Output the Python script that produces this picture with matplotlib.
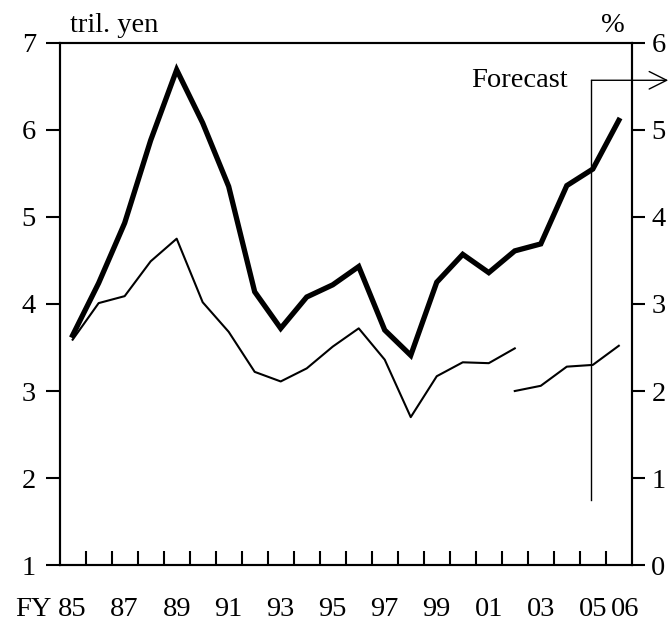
import matplotlib.pyplot as plt
import numpy as np
from matplotlib.transforms import ScaledTranslation

plt.rcParams['font.family'] = ['Liberation Serif', 'DejaVu Serif']
plt.rcParams['font.size'] = 20.5

# fiscal years shown on the x axis
years = ["85", "86", "87", "88", "89", "90", "91", "92", "93", "94", "95",
         "96", "97", "98", "99", "00", "01", "02", "03", "04", "05", "06"]

# thick line, left axis (tril. yen)
amount = [3.64, 4.24, 4.93, 5.88, 6.69, 6.08, 5.35, 4.14, 3.72, 4.08, 4.22,
          4.43, 3.70, 3.41, 4.25, 4.57, 4.36, 4.61, 4.69, 5.36, 5.55, 6.11]

# thin line, right axis (%), old basis FY85-02 and new basis FY02-06
pct_old_years = years[:18]
pct_old = [2.59, 3.01, 3.09, 3.49, 3.75, 3.02, 2.68, 2.22, 2.11, 2.26, 2.51,
           2.72, 2.36, 1.70, 2.17, 2.33, 2.32, 2.49]
pct_new_years = years[17:]
pct_new = [2.00, 2.06, 2.28, 2.30, 2.52]

tick_years = ["85", "87", "89", "91", "93", "95", "97", "99", "01", "03", "05", "06"]
forecast_year = "05"

idx = {y: i for i, y in enumerate(years)}

fig = plt.figure(figsize=(6.7, 6.21), dpi=100)
ax = fig.add_axes([0.089, 0.090, 0.854, 0.841])
ax2 = ax.twinx()

ax.plot([idx[y] for y in years], amount, color='black', lw=3.8,
        solid_joinstyle='miter')
ax2.plot([idx[y] for y in pct_old_years], pct_old, color='black', lw=1.5)
ax2.plot([idx[y] for y in pct_new_years], pct_new, color='black', lw=1.5)

ax.set_xlim(-0.5, len(years) - 0.5)
ax.set_ylim(1, 7)
ax2.set_ylim(0, 6)
ax.set_yticks(range(1, 8))
ax2.set_yticks(range(0, 7))

# year labels, boundary ticks pointing inward
ax.set_xticks([idx[y] for y in tick_years])
ax.set_xticklabels(tick_years)
ax.set_xticks(np.arange(0.5, len(years) - 1, 1.0), minor=True)
ax.tick_params(axis='x', which='major', length=0, pad=23)
ax.tick_params(axis='x', which='minor', direction='in', length=10, width=1.5)
ax.tick_params(axis='y', direction='out', length=10, width=1.5, pad=7)
ax2.tick_params(axis='y', direction='out', length=9, width=1.5, pad=5)
lbls = ax.get_xticklabels()
lbls[-1].set_transform(lbls[-1].get_transform() +
                       ScaledTranslation(6 / 100, 0, fig.dpi_scale_trans))

for a in (ax, ax2):
    for s in a.spines.values():
        s.set_linewidth(1.5)

# "FY" prefix set in line with the year labels
ax.text(-0.8, 0, "FY", transform=ax.get_xaxis_transform() +
        ScaledTranslation(0, -23 / 72, fig.dpi_scale_trans),
        ha='right', va='top', clip_on=False)
ax.text(0.018, 1.02, "tril. yen", transform=ax.transAxes, ha='left', va='baseline')
ax.text(0.967, 1.02, "%", transform=ax.transAxes, ha='center', va='baseline')

# forecast marker
fx = idx[forecast_year] - 0.05
ax.plot([fx, fx], [1.75, 6.57], color='black', lw=1.0, clip_on=False)
ax.annotate("", xy=(22.9, 6.57), xytext=(fx, 6.57),
            arrowprops=dict(arrowstyle='->,head_length=0.9,head_width=0.45',
                            lw=1.0, color='black', mutation_scale=14,
                            shrinkA=0, shrinkB=0),
            annotation_clip=False)
ax.text(19.05, 6.49, "Forecast", ha='right', va='baseline')

fig.savefig("out.png", dpi=100)
